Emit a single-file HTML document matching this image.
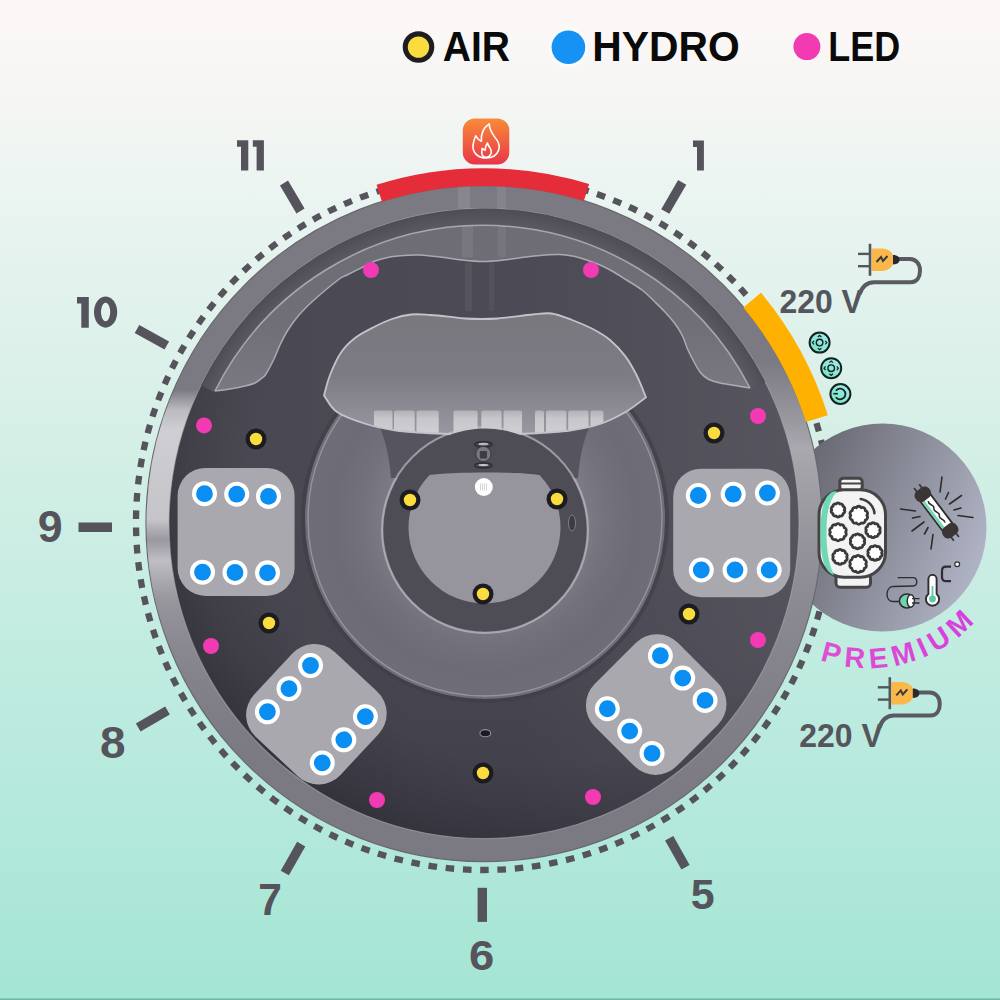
<!DOCTYPE html>
<html><head><meta charset="utf-8"><title>Spa layout</title>
<style>html,body{margin:0;padding:0;background:#fff;}svg{display:block;}</style></head>
<body><svg width="1000" height="1000" viewBox="0 0 1000 1000">
<defs>
<linearGradient id="bg" x1="0" y1="0" x2="0" y2="1">
  <stop offset="0" stop-color="#fdf8f7"/>
  <stop offset="0.10" stop-color="#f5f6f4"/>
  <stop offset="0.20" stop-color="#eaf4f0"/>
  <stop offset="0.45" stop-color="#d4efe6"/>
  <stop offset="0.70" stop-color="#bdebdf"/>
  <stop offset="1" stop-color="#a4e5d3"/>
</linearGradient>
<linearGradient id="prem" x1="0" y1="0.3" x2="1" y2="0.7">
  <stop offset="0" stop-color="#63626c"/>
  <stop offset="0.5" stop-color="#898b98"/>
  <stop offset="1" stop-color="#b2b6c7"/>
</linearGradient>
<linearGradient id="flame" x1="0" y1="0" x2="0" y2="1">
  <stop offset="0" stop-color="#f78c38"/>
  <stop offset="1" stop-color="#e93649"/>
</linearGradient>
<linearGradient id="rimL" x1="0" y1="0" x2="1" y2="0">
  <stop offset="0" stop-color="#c9c8ce" stop-opacity="0.85"/>
  <stop offset="0.18" stop-color="#b0afb6" stop-opacity="0.5"/>
  <stop offset="0.4" stop-color="#8a8990" stop-opacity="0"/>
  <stop offset="0.8" stop-color="#8a8990" stop-opacity="0"/>
  <stop offset="1" stop-color="#b5b4bb" stop-opacity="0.6"/>
</linearGradient>
<linearGradient id="rimRefL" gradientUnits="userSpaceOnUse" x1="0" y1="380" x2="0" y2="760">
  <stop offset="0.026" stop-color="#d6d6da" stop-opacity="0"/>
  <stop offset="0.079" stop-color="#d6d6da" stop-opacity="0.7"/>
  <stop offset="0.132" stop-color="#d6d6da" stop-opacity="0.92"/>
  <stop offset="0.368" stop-color="#d2d2d6" stop-opacity="0.85"/>
  <stop offset="0.421" stop-color="#c0bfc5" stop-opacity="0.45"/>
  <stop offset="0.474" stop-color="#d0d0d4" stop-opacity="0.8"/>
  <stop offset="0.579" stop-color="#c2c1c7" stop-opacity="0.4"/>
  <stop offset="0.684" stop-color="#b0afb6" stop-opacity="0.3"/>
  <stop offset="0.842" stop-color="#a09fa6" stop-opacity="0.15"/>
  <stop offset="1" stop-color="#8e8d94" stop-opacity="0"/>
</linearGradient>
<linearGradient id="rimRefR" gradientUnits="userSpaceOnUse" x1="0" y1="360" x2="0" y2="800">
  <stop offset="0" stop-color="#b5b4bb" stop-opacity="0"/>
  <stop offset="0.2" stop-color="#bdbcc2" stop-opacity="0.7"/>
  <stop offset="0.5" stop-color="#a6a5ac" stop-opacity="0.45"/>
  <stop offset="0.8" stop-color="#8e8d95" stop-opacity="0.3"/>
  <stop offset="1" stop-color="#8e8d95" stop-opacity="0"/>
</linearGradient>
<linearGradient id="inner" gradientUnits="userSpaceOnUse" x1="0" y1="200" x2="0" y2="850">
  <stop offset="0" stop-color="#4c4b55"/>
  <stop offset="0.385" stop-color="#4c4b55"/>
  <stop offset="0.69" stop-color="#484751"/>
  <stop offset="1" stop-color="#3e3d48"/>
</linearGradient>
<radialGradient id="innerS" gradientUnits="userSpaceOnUse" cx="540" cy="480" r="385">
  <stop offset="0" stop-color="#000" stop-opacity="0"/>
  <stop offset="0.74" stop-color="#000" stop-opacity="0"/>
  <stop offset="0.9" stop-color="#000" stop-opacity="0.1"/>
  <stop offset="1" stop-color="#000" stop-opacity="0.2"/>
</radialGradient>
<linearGradient id="innerH" gradientUnits="userSpaceOnUse" x1="170" y1="0" x2="800" y2="0">
  <stop offset="0" stop-color="#000" stop-opacity="0.04"/>
  <stop offset="0.45" stop-color="#000" stop-opacity="0"/>
  <stop offset="0.55" stop-color="#fff" stop-opacity="0"/>
  <stop offset="1" stop-color="#fff" stop-opacity="0.06"/>
</linearGradient>
<radialGradient id="groove" gradientUnits="userSpaceOnUse" cx="484" cy="523.6" r="315">
  <stop offset="0.95" stop-color="#5a5961"/>
  <stop offset="0.975" stop-color="#54535b"/>
  <stop offset="1" stop-color="#4e4d55"/>
</radialGradient>
<linearGradient id="winG" x1="0" y1="0" x2="0" y2="1">
  <stop offset="0" stop-color="#cfcfd3" stop-opacity="0.55"/>
  <stop offset="0.3" stop-color="#d4d4d8" stop-opacity="0.8"/>
  <stop offset="1" stop-color="#d8d8dc" stop-opacity="0.9"/>
</linearGradient>
<linearGradient id="seat" x1="0" y1="0" x2="0" y2="1">
  <stop offset="0" stop-color="#79787f"/>
  <stop offset="0.5" stop-color="#7c7b83"/>
  <stop offset="0.75" stop-color="#8a8991"/>
  <stop offset="1" stop-color="#9a99a1"/>
</linearGradient>
<linearGradient id="wing" gradientUnits="userSpaceOnUse" x1="0" y1="225" x2="0" y2="392">
  <stop offset="0" stop-color="#6e6d75"/>
  <stop offset="0.6" stop-color="#706f77"/>
  <stop offset="1" stop-color="#7a7981"/>
</linearGradient>
<radialGradient id="step" cx="0.5" cy="0.5" r="0.5">
  <stop offset="0.56" stop-color="#7c7b85"/>
  <stop offset="0.68" stop-color="#73727c"/>
  <stop offset="0.85" stop-color="#6c6b76"/>
  <stop offset="1" stop-color="#6e6d78"/>
</radialGradient>
<linearGradient id="prm" x1="0" y1="0" x2="1" y2="0">
  <stop offset="0" stop-color="#e04fd3"/>
  <stop offset="1" stop-color="#d43fdc"/>
</linearGradient>
<linearGradient id="ctl" x1="0" y1="1" x2="1" y2="0">
  <stop offset="0" stop-color="#72e3c0"/>
  <stop offset="1" stop-color="#a6ecf0"/>
</linearGradient>
</defs>
<rect x="0" y="0" width="1000" height="1000" fill="url(#bg)"/>
<rect x="0" y="998.5" width="1000" height="1.5" fill="#6cb8a3"/>
<circle cx="483.5" cy="522.5" r="347.5" fill="none" stroke="#55545c" stroke-width="6.3" stroke-dasharray="8.6 8.7286" stroke-dashoffset="5.7" transform="rotate(-90 483.5 522.5)"/>
<circle cx="882.5" cy="527.5" r="104" fill="url(#prem)"/>
<line x1="284" y1="183" x2="300.5" y2="211" stroke="#55545c" stroke-width="9.4"/>
<line x1="682.2" y1="182.3" x2="665.3" y2="211.5" stroke="#55545c" stroke-width="9.4"/>
<line x1="137" y1="329" x2="166.8" y2="345.5" stroke="#55545c" stroke-width="9.4"/>
<line x1="78.5" y1="527.3" x2="112" y2="527.3" stroke="#55545c" stroke-width="9.4"/>
<line x1="138.2" y1="727.5" x2="167.5" y2="710.5" stroke="#55545c" stroke-width="9.4"/>
<line x1="301.2" y1="844.2" x2="284.8" y2="873" stroke="#55545c" stroke-width="9.4"/>
<line x1="482.3" y1="887.8" x2="482.3" y2="921.9" stroke="#55545c" stroke-width="9.4"/>
<line x1="669.2" y1="838.2" x2="685.5" y2="867.2" stroke="#55545c" stroke-width="9.4"/>
<path d="M237,140.3 L248.3,140.3 L248.3,170.6 L241,170.6 L241,146.8 L237,146.8 Z" fill="#55545c"/>
<path d="M252.8,140.3 L263.90000000000003,140.3 L263.90000000000003,170.6 L256.6,170.6 L256.6,146.8 L252.8,146.8 Z" fill="#55545c"/>
<path d="M693,140.4 L703.9,140.4 L703.9,170.6 L697,170.6 L697,146.9 L693,146.9 Z" fill="#55545c"/>
<path d="M77,297 L88.8,297 L88.8,327.7 L81.3,327.7 L81.3,303.5 L77,303.5 Z" fill="#55545c"/>
<path d="M105.6,296.5 A11.65,15.6 0 1 1 105.59,296.5 Z M105.6,302.8 A4.6,9.2 0 1 0 105.61,302.8 Z" fill="#55545c" fill-rule="evenodd"/>
<text transform="translate(37.71,542.06) scale(0.4479,0.4366)" x="0" y="0" font-family='"Liberation Sans", sans-serif' font-weight="bold" font-size="100" fill="#55545c" >9</text>
<text transform="translate(100.12,757.55) scale(0.4600,0.4507)" x="0" y="0" font-family='"Liberation Sans", sans-serif' font-weight="bold" font-size="100" fill="#55545c" >8</text>
<text transform="translate(258.30,914.95) scale(0.4255,0.4485)" x="0" y="0" font-family='"Liberation Sans", sans-serif' font-weight="bold" font-size="100" fill="#55545c" >7</text>
<text transform="translate(469.08,970.27) scale(0.4542,0.4338)" x="0" y="0" font-family='"Liberation Sans", sans-serif' font-weight="bold" font-size="100" fill="#55545c" >6</text>
<text transform="translate(690.71,908.57) scale(0.4300,0.4286)" x="0" y="0" font-family='"Liberation Sans", sans-serif' font-weight="bold" font-size="100" fill="#55545c" >5</text>
<circle cx="418.5" cy="47" r="15.8" fill="#1e1e22"/><circle cx="418.5" cy="47.1" r="10.7" fill="#fbdc3e"/>
<circle cx="568.4" cy="47.3" r="20" fill="#fbfbfb"/><circle cx="568.4" cy="47.3" r="16.8" fill="#1592f3"/>
<circle cx="806.9" cy="46.6" r="13.5" fill="#f23ab3"/>
<text transform="translate(442.83,61.00) scale(0.3904,0.4232)" x="0" y="0" font-family='"Liberation Sans", sans-serif' font-weight="bold" font-size="100" fill="#0a0a0a" >AIR</text>
<text transform="translate(592.34,61.37) scale(0.4080,0.4282)" x="0" y="0" font-family='"Liberation Sans", sans-serif' font-weight="bold" font-size="100" fill="#0a0a0a" >HYDRO</text>
<text transform="translate(828.28,61.00) scale(0.3598,0.4232)" x="0" y="0" font-family='"Liberation Sans", sans-serif' font-weight="bold" font-size="100" fill="#0a0a0a" >LED</text>
<circle cx="484.0" cy="523.6" r="338.0" fill="#7b7a82" stroke="#68676f" stroke-width="1.2"/>
<path d="M321.00,805.92 A326,326 0 0 1 346.23,228.14" fill="none" stroke="url(#rimRefL)" stroke-width="23"/>
<path d="M766.32,360.60 A326,326 0 0 1 647.00,805.92" fill="none" stroke="url(#rimRefR)" stroke-width="23"/>
<circle cx="484.0" cy="523.6" r="315" fill="url(#inner)"/>
<circle cx="484.0" cy="523.6" r="315" fill="url(#innerH)"/>
<circle cx="484.0" cy="523.6" r="315" fill="url(#innerS)"/>
<circle cx="484.0" cy="523.6" r="315" fill="none" stroke="#aeadb4" stroke-width="1.2" stroke-opacity="0.55"/>
<path d="M200.88,385.51 A315,315 0 0 1 765.41,382.06 L751.12,389.25 A299,299 0 0 0 215.26,392.53 Z" fill="url(#groove)"/>
<path d="M215.0,391.0 C217.5,390.7 225.0,389.8 230.0,389.0 C235.0,388.2 240.8,387.0 245.0,386.0 C249.2,385.0 252.2,384.3 255.0,383.0 C257.8,381.7 260.2,379.5 262.0,378.0 C263.8,376.5 264.1,377.0 266.0,374.0 C267.9,371.0 271.2,364.8 273.5,360.0 C275.8,355.2 277.6,350.0 280.0,345.0 C282.4,340.0 284.8,335.0 288.0,330.0 C291.2,325.0 294.7,320.0 299.0,315.0 C303.3,310.0 307.5,305.8 314.0,300.0 C320.5,294.2 332.5,284.2 338.0,280.0 C343.5,275.8 342.5,277.3 347.0,275.0 C351.5,272.7 360.3,268.3 365.0,266.0 C369.7,263.7 370.8,262.5 375.0,261.0 C379.2,259.5 385.0,257.9 390.0,257.0 C395.0,256.1 400.0,255.8 405.0,255.5 C410.0,255.2 414.2,254.8 420.0,255.0 C425.8,255.2 433.0,256.2 440.0,257.0 C447.0,257.8 454.8,259.2 462.0,260.0 C469.2,260.8 476.0,261.5 483.0,261.5 C490.0,261.5 496.8,260.8 504.0,260.0 C511.2,259.2 519.0,257.8 526.0,257.0 C533.0,256.2 540.3,255.4 546.0,255.0 C551.7,254.6 555.2,254.2 560.0,254.5 C564.8,254.8 570.3,255.5 575.0,256.5 C579.7,257.5 583.8,259.1 588.0,260.5 C592.2,261.9 596.0,263.2 600.0,265.0 C604.0,266.8 607.8,268.7 612.0,271.0 C616.2,273.3 620.0,275.8 625.0,279.0 C630.0,282.2 637.0,286.2 642.0,290.0 C647.0,293.8 651.2,298.3 655.0,302.0 C658.8,305.7 662.2,309.0 665.0,312.0 C667.8,315.0 669.8,317.3 672.0,320.0 C674.2,322.7 676.2,325.2 678.0,328.0 C679.8,330.8 681.3,333.3 683.0,337.0 C684.7,340.7 686.3,346.2 688.0,350.0 C689.7,353.8 691.0,356.3 693.0,360.0 C695.0,363.7 697.5,368.8 700.0,372.0 C702.5,375.2 704.7,377.2 708.0,379.0 C711.3,380.8 715.5,381.9 720.0,383.0 C724.5,384.1 730.0,384.7 735.0,385.5 C740.0,386.3 747.5,387.6 750.0,388.0 A300,300 0 0 0 215,391 Z" fill="url(#wing)"/>
<path d="M215.0,391.0 C217.5,390.7 225.0,389.8 230.0,389.0 C235.0,388.2 240.8,387.0 245.0,386.0 C249.2,385.0 252.2,384.3 255.0,383.0 C257.8,381.7 260.2,379.5 262.0,378.0 C263.8,376.5 264.1,377.0 266.0,374.0 C267.9,371.0 271.2,364.8 273.5,360.0 C275.8,355.2 277.6,350.0 280.0,345.0 C282.4,340.0 284.8,335.0 288.0,330.0 C291.2,325.0 294.7,320.0 299.0,315.0 C303.3,310.0 307.5,305.8 314.0,300.0 C320.5,294.2 332.5,284.2 338.0,280.0 C343.5,275.8 342.5,277.3 347.0,275.0 C351.5,272.7 360.3,268.3 365.0,266.0 C369.7,263.7 370.8,262.5 375.0,261.0 C379.2,259.5 385.0,257.9 390.0,257.0 C395.0,256.1 400.0,255.8 405.0,255.5 C410.0,255.2 414.2,254.8 420.0,255.0 C425.8,255.2 433.0,256.2 440.0,257.0 C447.0,257.8 454.8,259.2 462.0,260.0 C469.2,260.8 476.0,261.5 483.0,261.5 C490.0,261.5 496.8,260.8 504.0,260.0 C511.2,259.2 519.0,257.8 526.0,257.0 C533.0,256.2 540.3,255.4 546.0,255.0 C551.7,254.6 555.2,254.2 560.0,254.5 C564.8,254.8 570.3,255.5 575.0,256.5 C579.7,257.5 583.8,259.1 588.0,260.5 C592.2,261.9 596.0,263.2 600.0,265.0 C604.0,266.8 607.8,268.7 612.0,271.0 C616.2,273.3 620.0,275.8 625.0,279.0 C630.0,282.2 637.0,286.2 642.0,290.0 C647.0,293.8 651.2,298.3 655.0,302.0 C658.8,305.7 662.2,309.0 665.0,312.0 C667.8,315.0 669.8,317.3 672.0,320.0 C674.2,322.7 676.2,325.2 678.0,328.0 C679.8,330.8 681.3,333.3 683.0,337.0 C684.7,340.7 686.3,346.2 688.0,350.0 C689.7,353.8 691.0,356.3 693.0,360.0 C695.0,363.7 697.5,368.8 700.0,372.0 C702.5,375.2 704.7,377.2 708.0,379.0 C711.3,380.8 715.5,381.9 720.0,383.0 C724.5,384.1 730.0,384.7 735.0,385.5 C740.0,386.3 747.5,387.6 750.0,388.0 " fill="none" stroke="#b8b7be" stroke-width="1.5" stroke-opacity="0.85"/>
<path d="M215,391 A300,300 0 0 1 750,388" fill="none" stroke="#b5b4bb" stroke-width="1.5" stroke-opacity="0.85"/>
<circle cx="485" cy="519" r="182" fill="none" stroke="#3f3e46" stroke-width="4" stroke-opacity="0.7"/>
<circle cx="485" cy="519" r="180" fill="url(#step)"/>
<circle cx="485" cy="519" r="177" fill="none" stroke="#a3a2aa" stroke-width="1.4" stroke-opacity="0.75"/>
<path d="M380,428 C386,442 389,456 391,478 L578,478 C580,456 583,442 589,428 Z" fill="#56555f"/>
<clipPath id="seatclip"><path d="M324.0,395.4 C325.0,392.0 327.2,382.1 330.0,375.0 C332.8,367.9 336.5,359.1 340.7,352.9 C344.9,346.7 349.4,342.3 355.0,338.0 C360.6,333.7 367.8,330.2 374.0,327.0 C380.2,323.8 385.8,321.1 392.0,319.0 C398.2,316.9 404.7,315.2 411.0,314.5 C417.3,313.8 423.8,314.6 430.0,315.0 C436.2,315.4 442.2,316.0 448.0,316.6 C453.8,317.2 459.4,318.1 465.0,318.5 C470.6,318.9 475.8,319.0 481.3,319.0 C486.8,319.0 492.4,318.9 498.0,318.5 C503.6,318.1 508.8,317.3 514.6,316.6 C520.4,315.9 526.8,315.0 533.0,314.5 C539.2,314.0 545.1,312.6 551.6,313.5 C558.1,314.4 565.2,317.4 572.0,320.0 C578.8,322.6 586.0,325.5 592.3,328.8 C598.6,332.1 604.5,335.4 610.0,340.0 C615.5,344.6 621.1,350.6 625.6,356.6 C630.1,362.6 633.6,369.2 637.0,376.0 C640.4,382.8 644.5,393.8 646.0,397.3 C642.6,399.8 633.3,407.6 625.6,412.0 C617.9,416.4 609.3,420.9 600.0,424.0 C590.7,427.1 581.7,428.9 570.0,430.5 C558.3,432.1 544.5,432.8 530.0,433.5 C515.5,434.2 498.7,435.0 483.0,435.0 C467.3,435.0 450.5,434.2 436.0,433.5 C421.5,432.8 407.7,432.1 396.0,430.5 C384.3,428.9 375.8,427.1 366.0,424.0 C356.2,420.9 344.0,416.8 337.0,412.0 C330.0,407.2 326.2,398.2 324.0,395.4 Z"/></clipPath>
<path d="M324.0,395.4 C325.0,392.0 327.2,382.1 330.0,375.0 C332.8,367.9 336.5,359.1 340.7,352.9 C344.9,346.7 349.4,342.3 355.0,338.0 C360.6,333.7 367.8,330.2 374.0,327.0 C380.2,323.8 385.8,321.1 392.0,319.0 C398.2,316.9 404.7,315.2 411.0,314.5 C417.3,313.8 423.8,314.6 430.0,315.0 C436.2,315.4 442.2,316.0 448.0,316.6 C453.8,317.2 459.4,318.1 465.0,318.5 C470.6,318.9 475.8,319.0 481.3,319.0 C486.8,319.0 492.4,318.9 498.0,318.5 C503.6,318.1 508.8,317.3 514.6,316.6 C520.4,315.9 526.8,315.0 533.0,314.5 C539.2,314.0 545.1,312.6 551.6,313.5 C558.1,314.4 565.2,317.4 572.0,320.0 C578.8,322.6 586.0,325.5 592.3,328.8 C598.6,332.1 604.5,335.4 610.0,340.0 C615.5,344.6 621.1,350.6 625.6,356.6 C630.1,362.6 633.6,369.2 637.0,376.0 C640.4,382.8 644.5,393.8 646.0,397.3 C642.6,399.8 633.3,407.6 625.6,412.0 C617.9,416.4 609.3,420.9 600.0,424.0 C590.7,427.1 581.7,428.9 570.0,430.5 C558.3,432.1 544.5,432.8 530.0,433.5 C515.5,434.2 498.7,435.0 483.0,435.0 C467.3,435.0 450.5,434.2 436.0,433.5 C421.5,432.8 407.7,432.1 396.0,430.5 C384.3,428.9 375.8,427.1 366.0,424.0 C356.2,420.9 344.0,416.8 337.0,412.0 C330.0,407.2 326.2,398.2 324.0,395.4 Z" fill="url(#seat)"/>
<g clip-path="url(#seatclip)"><rect x="374" y="410.5" width="18.5" height="27" rx="2" fill="url(#winG)"/><rect x="394" y="410.5" width="20.69999999999999" height="27" rx="2" fill="url(#winG)"/><rect x="416.5" y="410.5" width="22.19999999999999" height="27" rx="2" fill="url(#winG)"/><rect x="453.5" y="410.5" width="24.100000000000023" height="27" rx="2" fill="url(#winG)"/><rect x="481.3" y="410.5" width="20.30000000000001" height="27" rx="2" fill="url(#winG)"/><rect x="503.5" y="410.5" width="18.5" height="27" rx="2" fill="url(#winG)"/><rect x="535" y="410.5" width="9" height="27" rx="2" fill="url(#winG)"/><rect x="546" y="410.5" width="20.399999999999977" height="27" rx="2" fill="url(#winG)"/><rect x="568.2" y="410.5" width="20.399999999999977" height="27" rx="2" fill="url(#winG)"/><rect x="590.4" y="410.5" width="13.0" height="27" rx="2" fill="url(#winG)"/></g>
<path d="M324.0,395.4 C325.0,392.0 327.2,382.1 330.0,375.0 C332.8,367.9 336.5,359.1 340.7,352.9 C344.9,346.7 349.4,342.3 355.0,338.0 C360.6,333.7 367.8,330.2 374.0,327.0 C380.2,323.8 385.8,321.1 392.0,319.0 C398.2,316.9 404.7,315.2 411.0,314.5 C417.3,313.8 423.8,314.6 430.0,315.0 C436.2,315.4 442.2,316.0 448.0,316.6 C453.8,317.2 459.4,318.1 465.0,318.5 C470.6,318.9 475.8,319.0 481.3,319.0 C486.8,319.0 492.4,318.9 498.0,318.5 C503.6,318.1 508.8,317.3 514.6,316.6 C520.4,315.9 526.8,315.0 533.0,314.5 C539.2,314.0 545.1,312.6 551.6,313.5 C558.1,314.4 565.2,317.4 572.0,320.0 C578.8,322.6 586.0,325.5 592.3,328.8 C598.6,332.1 604.5,335.4 610.0,340.0 C615.5,344.6 621.1,350.6 625.6,356.6 C630.1,362.6 633.6,369.2 637.0,376.0 C640.4,382.8 644.5,393.8 646.0,397.3 C642.6,399.8 633.3,407.6 625.6,412.0 C617.9,416.4 609.3,420.9 600.0,424.0 C590.7,427.1 581.7,428.9 570.0,430.5 C558.3,432.1 544.5,432.8 530.0,433.5 C515.5,434.2 498.7,435.0 483.0,435.0 C467.3,435.0 450.5,434.2 436.0,433.5 C421.5,432.8 407.7,432.1 396.0,430.5 C384.3,428.9 375.8,427.1 366.0,424.0 C356.2,420.9 344.0,416.8 337.0,412.0 C330.0,407.2 326.2,398.2 324.0,395.4 Z" fill="none" stroke="#c4c3c9" stroke-width="1.8"/>
<circle cx="485" cy="530" r="103" fill="none" stroke="#c9c8ce" stroke-width="2" stroke-opacity="0.6"/>
<circle cx="485" cy="530" r="101.5" fill="#4e4d55"/>
<path d="M429.5,475 C450,471.5 520,471.5 539.5,475 A76,76 0 1 1 429.5,475 Z" fill="#96949d"/>
<ellipse cx="483.4" cy="444.5" rx="8.5" ry="2.6" fill="none" stroke="#2f2e35" stroke-width="1.6"/>
<ellipse cx="483.4" cy="444" rx="5" ry="1.2" fill="#b9b8be"/>
<circle cx="483.4" cy="454" r="7.6" fill="#7a7981" stroke="#3a3940" stroke-width="1"/>
<rect x="479.8" y="451" width="7.2" height="7.5" rx="1.2" fill="#3d3c43"/>
<ellipse cx="483.4" cy="465.5" rx="8.5" ry="2.4" fill="none" stroke="#2f2e35" stroke-width="1.5"/>
<ellipse cx="483.4" cy="465" rx="5" ry="1.1" fill="#c9c8ce"/>
<circle cx="483.8" cy="487" r="9" fill="#fdfdfd"/>
<path d="M480.5,483.5 L480.5,490.5 M482.5,483.5 L482.5,490.5 M484.5,483.5 L484.5,490.5 M486.5,483.5 L486.5,490.5" stroke="#c9c8cd" stroke-width="0.8"/>
<ellipse cx="485.3" cy="733.2" rx="5.4" ry="3.6" fill="#1c1b22" stroke="#8f8e96" stroke-width="1.1"/>
<ellipse cx="572" cy="523" rx="3.5" ry="8" fill="#3c3b44" stroke="#7f7e87" stroke-width="1"/>
<rect x="458" y="186" width="12" height="23" fill="#fff" fill-opacity="0.09"/>
<rect x="497" y="186" width="9" height="23" fill="#fff" fill-opacity="0.07"/>
<rect x="462" y="226" width="11" height="31" fill="#fff" fill-opacity="0.07"/>
<rect x="498" y="226" width="8" height="31" fill="#fff" fill-opacity="0.06"/>
<rect x="465" y="263" width="7" height="48" fill="#fff" fill-opacity="0.05"/>
<rect x="489" y="263" width="5" height="48" fill="#fff" fill-opacity="0.045"/>
<g transform="translate(236.1,531.9) rotate(0)"><rect x="-58.5" y="-64.0" width="117" height="128" rx="28" fill="#a9a8ae"/><circle cx="-31.6" cy="-38.2" r="12.5" fill="#fff"/><circle cx="-31.6" cy="-38.2" r="8.4" fill="#0b8ef2"/><circle cx="0.6" cy="-37.7" r="12.5" fill="#fff"/><circle cx="0.6" cy="-37.7" r="8.4" fill="#0b8ef2"/><circle cx="32.4" cy="-35.5" r="12.5" fill="#fff"/><circle cx="32.4" cy="-35.5" r="8.4" fill="#0b8ef2"/><circle cx="-33.6" cy="40.3" r="12.5" fill="#fff"/><circle cx="-33.6" cy="40.3" r="8.4" fill="#0b8ef2"/><circle cx="-1.1" cy="40.6" r="12.5" fill="#fff"/><circle cx="-1.1" cy="40.6" r="8.4" fill="#0b8ef2"/><circle cx="31.4" cy="40.9" r="12.5" fill="#fff"/><circle cx="31.4" cy="40.9" r="8.4" fill="#0b8ef2"/></g>
<g transform="translate(731.7,532.9) rotate(0)"><rect x="-58.5" y="-64.25" width="117" height="128.5" rx="28" fill="#a9a8ae"/><circle cx="-33.4" cy="-37.4" r="12.5" fill="#fff"/><circle cx="-33.4" cy="-37.4" r="8.4" fill="#0b8ef2"/><circle cx="1.5" cy="-38.7" r="12.5" fill="#fff"/><circle cx="1.5" cy="-38.7" r="8.4" fill="#0b8ef2"/><circle cx="35.7" cy="-39.9" r="12.5" fill="#fff"/><circle cx="35.7" cy="-39.9" r="8.4" fill="#0b8ef2"/><circle cx="-30.4" cy="37.1" r="12.5" fill="#fff"/><circle cx="-30.4" cy="37.1" r="8.4" fill="#0b8ef2"/><circle cx="3.3" cy="37.1" r="12.5" fill="#fff"/><circle cx="3.3" cy="37.1" r="8.4" fill="#0b8ef2"/><circle cx="37.5" cy="37.1" r="12.5" fill="#fff"/><circle cx="37.5" cy="37.1" r="8.4" fill="#0b8ef2"/></g>
<g transform="translate(316.4,714.2) rotate(-47)"><rect x="-58.0" y="-59.0" width="116" height="118" rx="30" fill="#a9a8ae"/><circle cx="-31.6" cy="-37.5" r="12.5" fill="#fff"/><circle cx="-31.6" cy="-37.5" r="8.4" fill="#0b8ef2"/><circle cx="0" cy="-37.5" r="12.5" fill="#fff"/><circle cx="0" cy="-37.5" r="8.4" fill="#0b8ef2"/><circle cx="31.6" cy="-37.5" r="12.5" fill="#fff"/><circle cx="31.6" cy="-37.5" r="8.4" fill="#0b8ef2"/><circle cx="-31.6" cy="37.5" r="12.5" fill="#fff"/><circle cx="-31.6" cy="37.5" r="8.4" fill="#0b8ef2"/><circle cx="0" cy="37.5" r="12.5" fill="#fff"/><circle cx="0" cy="37.5" r="8.4" fill="#0b8ef2"/><circle cx="31.6" cy="37.5" r="12.5" fill="#fff"/><circle cx="31.6" cy="37.5" r="8.4" fill="#0b8ef2"/></g>
<g transform="translate(656.2,704.6) rotate(45)"><rect x="-58.0" y="-59.0" width="116" height="118" rx="30" fill="#a9a8ae"/><circle cx="-31.6" cy="-37.5" r="12.5" fill="#fff"/><circle cx="-31.6" cy="-37.5" r="8.4" fill="#0b8ef2"/><circle cx="0" cy="-37.5" r="12.5" fill="#fff"/><circle cx="0" cy="-37.5" r="8.4" fill="#0b8ef2"/><circle cx="31.6" cy="-37.5" r="12.5" fill="#fff"/><circle cx="31.6" cy="-37.5" r="8.4" fill="#0b8ef2"/><circle cx="-31.6" cy="37.5" r="12.5" fill="#fff"/><circle cx="-31.6" cy="37.5" r="8.4" fill="#0b8ef2"/><circle cx="0" cy="37.5" r="12.5" fill="#fff"/><circle cx="0" cy="37.5" r="8.4" fill="#0b8ef2"/><circle cx="31.6" cy="37.5" r="12.5" fill="#fff"/><circle cx="31.6" cy="37.5" r="8.4" fill="#0b8ef2"/></g>
<circle cx="256" cy="439" r="10.5" fill="#1c1c20"/><circle cx="256" cy="439" r="6.2" fill="#fbdc3e"/>
<circle cx="714" cy="433" r="10.5" fill="#1c1c20"/><circle cx="714" cy="433" r="6.2" fill="#fbdc3e"/>
<circle cx="410" cy="500" r="10.5" fill="#1c1c20"/><circle cx="410" cy="500" r="6.2" fill="#fbdc3e"/>
<circle cx="557" cy="499" r="10.5" fill="#1c1c20"/><circle cx="557" cy="499" r="6.2" fill="#fbdc3e"/>
<circle cx="483" cy="594" r="10.5" fill="#1c1c20"/><circle cx="483" cy="594" r="6.2" fill="#fbdc3e"/>
<circle cx="269" cy="623" r="10.5" fill="#1c1c20"/><circle cx="269" cy="623" r="6.2" fill="#fbdc3e"/>
<circle cx="689" cy="614" r="10.5" fill="#1c1c20"/><circle cx="689" cy="614" r="6.2" fill="#fbdc3e"/>
<circle cx="483" cy="773" r="10.5" fill="#1c1c20"/><circle cx="483" cy="773" r="6.2" fill="#fbdc3e"/>
<circle cx="371" cy="270" r="8" fill="#f23ab3"/>
<circle cx="591" cy="270" r="8" fill="#f23ab3"/>
<circle cx="204" cy="425.4" r="8" fill="#f23ab3"/>
<circle cx="758" cy="416" r="8" fill="#f23ab3"/>
<circle cx="211" cy="646" r="8" fill="#f23ab3"/>
<circle cx="758" cy="640" r="8" fill="#f23ab3"/>
<circle cx="377" cy="800" r="8" fill="#f23ab3"/>
<circle cx="593" cy="797" r="8" fill="#f23ab3"/>
<path d="M376.54,184.84 A355.4,355.4 0 0 1 589.09,184.09 L583.83,201.10 A337.6,337.6 0 0 0 381.92,201.80 Z" fill="#e52d3a"/>
<rect x="462.8" y="118.4" width="46.5" height="46" rx="12" fill="url(#flame)"/>
<g transform="translate(462.8,118.4)" fill="none" stroke="#fff" stroke-width="1.6" stroke-linejoin="round"><path d="M23.4,39.6 C15,39.6 9.5,34 10.2,27 C10.6,22.5 12,19.5 12.9,17.4 C14.5,20 16.5,22 18.6,22.8 C18,15 21,9 26.4,5.4 C26.5,13 31,17 34,21.5 C36.5,25 36.8,29 35.7,32 C34,36.8 29,39.6 23.4,39.6 Z"/><path d="M23.4,39 C20.5,39 18.5,36.5 19,33.5 C19.3,31.8 19.5,30.8 19.2,30 C20.5,30.8 21.5,31.5 22.3,32 C22.5,29 23.3,26.5 24.6,24.6 C25.5,27.5 27.5,29.5 28.2,31.5 C29.3,35 27,39 23.4,39 Z"/></g>
<path d="M760.97,292.84 A360.5,360.5 0 0 1 827.81,415.20 L805.88,422.11 A337.5,337.5 0 0 0 743.30,307.56 Z" fill="#feb100"/>
<g id="plug"><text transform="translate(779.44,313.47) scale(0.3194,0.3268)" x="0" y="0" font-family='"Liberation Sans", sans-serif' font-weight="bold" font-size="100" fill="#55555d" >220 V</text><path d="M859.6,294.2 C862,287 866,282.2 874,282.2 L910.8,282.2 C917,282.2 920,277 920,270.5 C920,264 916,259 910,259 L898,259" fill="none" stroke="#5a5a62" stroke-width="4"/><path d="M871.6,248.6 L882,248.6 C889,248.6 894,253.5 894,259.8 C894,266 889,271 882,271 L871.6,271 Z" fill="#f9b849"/><path d="M893,255 C898,255 899.5,257.5 899.5,259.8 C899.5,262 898,264.5 893,264.5 Z" fill="#2a2a2e"/><line x1="870" y1="243.8" x2="870" y2="275.8" stroke="#55555d" stroke-width="2.6"/><line x1="858" y1="253.9" x2="870" y2="253.9" stroke="#55555d" stroke-width="2.4"/><line x1="858" y1="266.2" x2="870" y2="266.2" stroke="#55555d" stroke-width="2.4"/><path d="M876.5,262 L881,257 L883,261 L887.5,256" fill="none" stroke="#3a3a40" stroke-width="2"/></g>
<use href="#plug" transform="translate(19.8,433.4)"/>
<g transform="translate(819.6,342.6)"><circle r="10" fill="url(#ctl)" stroke="#142220" stroke-width="2"/><circle r="3.3" fill="none" stroke="#142220" stroke-width="1.4"/><path d="M-1.8,-5.6 L0,-7.2 L1.8,-5.6 M-1.8,5.6 L0,7.2 L1.8,5.6 M-5.6,-1.8 L-7.2,0 L-5.6,1.8 M5.6,-1.8 L7.2,0 L5.6,1.8" fill="none" stroke="#142220" stroke-width="1.2"/></g>
<g transform="translate(831.2,368.2)"><circle r="10" fill="url(#ctl)" stroke="#142220" stroke-width="2"/><circle r="3.3" fill="none" stroke="#142220" stroke-width="1.4"/><path d="M-1.8,-5.6 L0,-7.2 L1.8,-5.6 M-1.8,5.6 L0,7.2 L1.8,5.6 M-5.6,-1.8 L-7.2,0 L-5.6,1.8 M5.6,-1.8 L7.2,0 L5.6,1.8" fill="none" stroke="#142220" stroke-width="1.2"/></g>
<g transform="translate(840.4,394)"><circle r="10" fill="url(#ctl)" stroke="#142220" stroke-width="2"/><path d="M-4.5,-3.2 A5.3,5.3 0 1 1 -4.5,3.2" fill="none" stroke="#142220" stroke-width="1.8"/><line x1="-7" y1="-0.3" x2="-2.5" y2="-0.3" stroke="#142220" stroke-width="1.6"/></g>
<g stroke="#454446" stroke-width="3" fill="#f3f3f3"><rect x="839.8" y="478.2" width="22.4" height="12.4" rx="3.5"/><rect x="836" y="574" width="34.5" height="13.2" rx="4"/><rect x="819" y="489.8" width="66.5" height="87.4" rx="25"/></g>
<path d="M833,491.5 C823,497 820.6,510 820.6,533 C820.6,556 823,570 834,575.5 C828,562 826.5,548 826.5,533 C826.5,515 828,502 837,491.3 Z" fill="#6fd9b6"/>
<line x1="841" y1="483.5" x2="861" y2="483.5" stroke="#454446" stroke-width="2"/>
<path d="M844.20,510.00 A2.20,2.20 0 0 1 843.02,513.64 A2.20,2.20 0 0 1 839.92,515.90 A2.20,2.20 0 0 1 836.08,515.90 A2.20,2.20 0 0 1 832.98,513.64 A2.20,2.20 0 0 1 831.80,510.00 A2.20,2.20 0 0 1 832.98,506.36 A2.20,2.20 0 0 1 836.08,504.10 A2.20,2.20 0 0 1 839.92,504.10 A2.20,2.20 0 0 1 843.02,506.36 A2.20,2.20 0 0 1 844.20,510.00 Z" fill="#fff" stroke="#3a393c" stroke-width="2.8" stroke-linejoin="round"/>
<path d="M866.80,515.30 A2.84,2.84 0 0 1 865.27,520.00 A2.84,2.84 0 0 1 861.27,522.91 A2.84,2.84 0 0 1 856.33,522.91 A2.84,2.84 0 0 1 852.33,520.00 A2.84,2.84 0 0 1 850.80,515.30 A2.84,2.84 0 0 1 852.33,510.60 A2.84,2.84 0 0 1 856.33,507.69 A2.84,2.84 0 0 1 861.27,507.69 A2.84,2.84 0 0 1 865.27,510.60 A2.84,2.84 0 0 1 866.80,515.30 Z" fill="#fff" stroke="#3a393c" stroke-width="2.8" stroke-linejoin="round"/>
<path d="M845.60,532.20 A2.70,2.70 0 0 1 844.15,536.67 A2.70,2.70 0 0 1 840.35,539.43 A2.70,2.70 0 0 1 835.65,539.43 A2.70,2.70 0 0 1 831.85,536.67 A2.70,2.70 0 0 1 830.40,532.20 A2.70,2.70 0 0 1 831.85,527.73 A2.70,2.70 0 0 1 835.65,524.97 A2.70,2.70 0 0 1 840.35,524.97 A2.70,2.70 0 0 1 844.15,527.73 A2.70,2.70 0 0 1 845.60,532.20 Z" fill="#fff" stroke="#3a393c" stroke-width="2.8" stroke-linejoin="round"/>
<path d="M879.60,530.20 A2.35,2.35 0 0 1 878.34,534.08 A2.35,2.35 0 0 1 875.04,536.48 A2.35,2.35 0 0 1 870.96,536.48 A2.35,2.35 0 0 1 867.66,534.08 A2.35,2.35 0 0 1 866.40,530.20 A2.35,2.35 0 0 1 867.66,526.32 A2.35,2.35 0 0 1 870.96,523.92 A2.35,2.35 0 0 1 875.04,523.92 A2.35,2.35 0 0 1 878.34,526.32 A2.35,2.35 0 0 1 879.60,530.20 Z" fill="#fff" stroke="#3a393c" stroke-width="2.8" stroke-linejoin="round"/>
<path d="M864.10,541.30 A2.35,2.35 0 0 1 862.84,545.18 A2.35,2.35 0 0 1 859.54,547.58 A2.35,2.35 0 0 1 855.46,547.58 A2.35,2.35 0 0 1 852.16,545.18 A2.35,2.35 0 0 1 850.90,541.30 A2.35,2.35 0 0 1 852.16,537.42 A2.35,2.35 0 0 1 855.46,535.02 A2.35,2.35 0 0 1 859.54,535.02 A2.35,2.35 0 0 1 862.84,537.42 A2.35,2.35 0 0 1 864.10,541.30 Z" fill="#fff" stroke="#3a393c" stroke-width="2.8" stroke-linejoin="round"/>
<path d="M846.60,556.90 A2.35,2.35 0 0 1 845.34,560.78 A2.35,2.35 0 0 1 842.04,563.18 A2.35,2.35 0 0 1 837.96,563.18 A2.35,2.35 0 0 1 834.66,560.78 A2.35,2.35 0 0 1 833.40,556.90 A2.35,2.35 0 0 1 834.66,553.02 A2.35,2.35 0 0 1 837.96,550.62 A2.35,2.35 0 0 1 842.04,550.62 A2.35,2.35 0 0 1 845.34,553.02 A2.35,2.35 0 0 1 846.60,556.90 Z" fill="#fff" stroke="#3a393c" stroke-width="2.8" stroke-linejoin="round"/>
<path d="M881.60,553.00 A2.35,2.35 0 0 1 880.34,556.88 A2.35,2.35 0 0 1 877.04,559.28 A2.35,2.35 0 0 1 872.96,559.28 A2.35,2.35 0 0 1 869.66,556.88 A2.35,2.35 0 0 1 868.40,553.00 A2.35,2.35 0 0 1 869.66,549.12 A2.35,2.35 0 0 1 872.96,546.72 A2.35,2.35 0 0 1 877.04,546.72 A2.35,2.35 0 0 1 880.34,549.12 A2.35,2.35 0 0 1 881.60,553.00 Z" fill="#fff" stroke="#3a393c" stroke-width="2.8" stroke-linejoin="round"/>
<path d="M865.70,564.00 A2.70,2.70 0 0 1 864.25,568.47 A2.70,2.70 0 0 1 860.45,571.23 A2.70,2.70 0 0 1 855.75,571.23 A2.70,2.70 0 0 1 851.95,568.47 A2.70,2.70 0 0 1 850.50,564.00 A2.70,2.70 0 0 1 851.95,559.53 A2.70,2.70 0 0 1 855.75,556.77 A2.70,2.70 0 0 1 860.45,556.77 A2.70,2.70 0 0 1 864.25,559.53 A2.70,2.70 0 0 1 865.70,564.00 Z" fill="#fff" stroke="#3a393c" stroke-width="2.8" stroke-linejoin="round"/>
<path d="M860.7,499 C868,500 874,506 874.4,513.3" fill="none" stroke="#3e3d40" stroke-width="2.6" stroke-linecap="round"/>
<g transform="translate(936.5,512.5) rotate(-37)"><rect x="-6.2" y="-18" width="12.4" height="36" fill="#fff" stroke="#2e2b2c" stroke-width="1.8"/><rect x="-5.3" y="-17" width="2.8" height="34" fill="#73d9b5"/><path d="M0.5,-14 C-3,-11 3.5,-8 0.5,-5 C-3,-2 3.5,1 0.5,4 C-3,7 3.5,10 0.5,13" fill="none" stroke="#2e2b2c" stroke-width="1.6"/><rect x="-8.5" y="-29" width="17" height="12.5" rx="5.5" fill="#3b3536"/><rect x="-8.5" y="16.5" width="17" height="12.5" rx="5.5" fill="#3b3536"/><path d="M-3.2,-28 L-3.2,-33 M3.2,-28 L3.2,-33 M-3.2,28 L-3.2,33 M3.2,28 L3.2,33" stroke="#3b3536" stroke-width="1.8"/></g>
<line x1="942" y1="477" x2="940" y2="492" stroke="#2e2b2c" stroke-width="1.6" stroke-linecap="round"/>
<line x1="948.5" y1="492.5" x2="945.5" y2="499" stroke="#2e2b2c" stroke-width="1.6" stroke-linecap="round"/>
<line x1="961.5" y1="495.5" x2="949.5" y2="504" stroke="#2e2b2c" stroke-width="1.6" stroke-linecap="round"/>
<line x1="961" y1="508" x2="954" y2="510" stroke="#2e2b2c" stroke-width="1.6" stroke-linecap="round"/>
<line x1="973" y1="517.5" x2="958" y2="515.5" stroke="#2e2b2c" stroke-width="1.6" stroke-linecap="round"/>
<line x1="915.5" y1="511" x2="900.5" y2="509" stroke="#2e2b2c" stroke-width="1.6" stroke-linecap="round"/>
<line x1="920" y1="516.5" x2="912.5" y2="518" stroke="#2e2b2c" stroke-width="1.6" stroke-linecap="round"/>
<line x1="924" y1="522" x2="912" y2="531" stroke="#2e2b2c" stroke-width="1.6" stroke-linecap="round"/>
<line x1="928" y1="527.5" x2="924.5" y2="534" stroke="#2e2b2c" stroke-width="1.6" stroke-linecap="round"/>
<line x1="933" y1="534.5" x2="931" y2="549" stroke="#2e2b2c" stroke-width="1.6" stroke-linecap="round"/>
<path d="M928.4,594 L928.4,579 A4.1,4.1 0 0 1 936.6,579 L936.6,594 A6.6,6.6 0 1 1 928.4,594 Z" fill="#fff" stroke="#2f2d2e" stroke-width="1.9" stroke-linejoin="round"/>
<line x1="932.5" y1="586" x2="932.5" y2="598" stroke="#5cc9a7" stroke-width="1.8"/><circle cx="932.5" cy="599" r="3.4" fill="#5cc9a7"/>
<path d="M951,566.6 L946.2,566.6 Q942,566.6 942,570.8 L942,577 Q942,581.2 946.2,581.2 L951,581.2" fill="none" stroke="#2f2d2e" stroke-width="2.2"/>
<circle cx="957.2" cy="564.2" r="2.4" fill="#fff" stroke="#2f2d2e" stroke-width="1.2"/>
<path d="M897.6,577.6 L913,577.6 C918,577.6 918,586 913,586 L893,586.5 C885,587 885,601.5 893,601.5 L899,601.5" fill="none" stroke="#2f2d2e" stroke-width="1.4"/>
<ellipse cx="906.8" cy="601" rx="7.4" ry="7" fill="#6fd3ad" stroke="#2f2d2e" stroke-width="1.6"/>
<ellipse cx="910.8" cy="601" rx="3.6" ry="6.2" fill="#fff" stroke="#2f2d2e" stroke-width="1.4"/>
<path d="M912,598.6 L919.5,598.6 M912,603 L919.5,603" stroke="#2f2d2e" stroke-width="1.3"/>
<path id="parc" d="M820,659.7 A145,145 0 0 0 985,610" fill="none"/>
<text font-family='"Liberation Sans", sans-serif' font-weight="bold" font-size="28.5" fill="url(#prm)" letter-spacing="5.6"><textPath href="#parc">PREMIUM</textPath></text>
</svg></body></html>
